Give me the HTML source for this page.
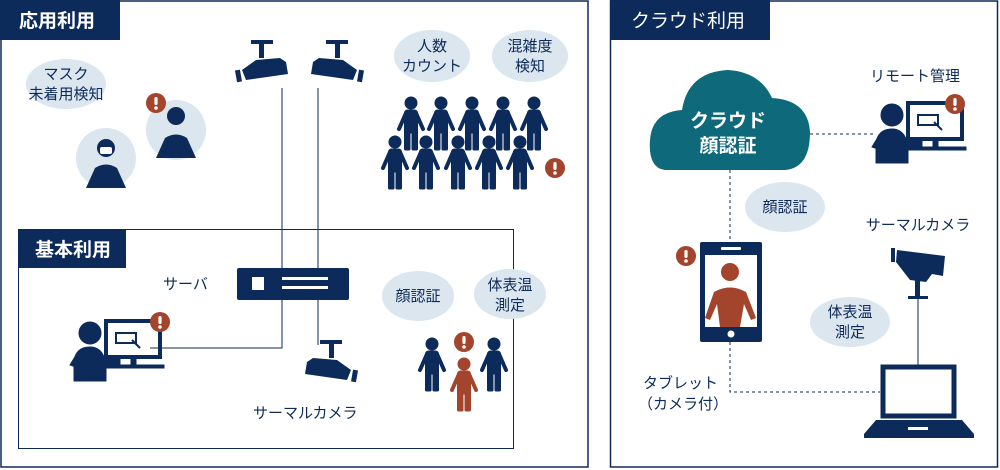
<!DOCTYPE html>
<html><head><meta charset="utf-8"><style>
html,body{margin:0;padding:0;background:#fff;}
svg{display:block;font-family:"Liberation Sans","Noto Sans CJK JP",sans-serif;}
</style></head><body>
<svg width="1000" height="470" viewBox="0 0 1000 470" xmlns="http://www.w3.org/2000/svg">
<defs>
<g id="man">
<circle cx="0" cy="6" r="6"/>
<rect x="-6.5" y="13" width="13" height="23" rx="3"/>
<line x1="-5" y1="16" x2="-12" y2="32" stroke-width="4" stroke-linecap="round"/>
<line x1="5" y1="16" x2="12" y2="32" stroke-width="4" stroke-linecap="round"/>
<rect x="-6.5" y="33" width="5.5" height="20" rx="1"/>
<rect x="1" y="33" width="5.5" height="20" rx="1"/>
</g>
<g id="bang"><circle r="10" fill="#a3442d"/><rect x="-1.6" y="-6" width="3.2" height="8" rx="1.5" fill="#fff"/><circle cy="5" r="1.8" fill="#fff"/></g>
<g id="pcman">
<circle cx="20" cy="12" r="11"/>
<path d="M4 60 L4 40 Q6 26 20 26 Q30 26 34 36 L50 36 L50 44 L36 44 L36 60 Z"/>
<path d="M0 44 L6 34 L10 40 L6 46Z"/>
<rect x="36" y="0" width="54" height="36" fill="none" stroke-width="4"/>
<rect x="61" y="36" width="5" height="8"/>
<rect x="36" y="44" width="58" height="3"/>
<rect x="46" y="12" width="20" height="10" fill="none" stroke-width="2"/>
<path d="M62 19 L70 27" stroke-width="2"/>
</g>
<g id="camL">
<rect x="13" y="0" width="22" height="4"/>
<rect x="21" y="4" width="5" height="14"/>
<path d="M4 30 L18 20 L42 18 L48 22 L50 34 L8 40 Z"/>
<rect x="-2" y="30" width="5" height="12" transform="rotate(-10 0 36)"/>
</g>
</defs>

<rect x="1" y="1" width="587" height="466" fill="#fff" stroke="#0d2b5a" stroke-width="1.5"/>
<rect x="0" y="0" width="120" height="40" fill="#0d2b5a"/>
<text x="19" y="27" font-size="19" font-weight="bold" fill="#fff">応用利用</text>

<rect x="18.5" y="229.5" width="495" height="219" fill="none" stroke="#0d2b5a" stroke-width="1"/>
<rect x="18" y="229" width="108" height="39" fill="#0d2b5a"/>
<text x="35" y="256" font-size="19" font-weight="bold" fill="#fff">基本利用</text>

<g stroke="#0d2b5a" stroke-width="1" fill="none">
<line x1="282" y1="88" x2="282" y2="268"/>
<line x1="318" y1="88" x2="318" y2="268"/>
<polyline points="282,300 282,348 150,348"/>
<line x1="318" y1="300" x2="318" y2="345"/>
</g>

<ellipse cx="66" cy="84" rx="40" ry="25" fill="#dbe6ef"/>
<text x="66" y="79" font-size="15" fill="#0d2b5a" text-anchor="middle">マスク</text>
<text x="66" y="99" font-size="15" fill="#0d2b5a" text-anchor="middle">未着用検知</text>
<circle cx="106" cy="158" r="30" fill="#dbe6ef"/>
<circle cx="176" cy="130" r="30" fill="#dbe6ef"/>
<g fill="#0d2b5a">
<circle cx="106" cy="148" r="9"/>
<path d="M86 188 L95 168 Q106 161 117 168 L126 188 Z"/>
<circle cx="176" cy="116" r="9"/>
<path d="M156 158 L165 138 Q176 131 187 138 L196 158 Z"/>
</g>
<rect x="100" y="147" width="12" height="7" rx="2" fill="#fff"/>
<use href="#bang" x="156" y="103"/>

<g fill="#0d2b5a" stroke="#0d2b5a">
<g transform="translate(238,40)"><use href="#camL" stroke="none"/></g>
<g transform="translate(361,40) scale(-1,1)"><use href="#camL" stroke="none"/></g>
</g>

<ellipse cx="432" cy="56" rx="38" ry="26" fill="#dbe6ef"/>
<text x="432" y="51" font-size="15" fill="#0d2b5a" text-anchor="middle">人数</text>
<text x="432" y="71" font-size="15" fill="#0d2b5a" text-anchor="middle">カウント</text>
<ellipse cx="530" cy="56" rx="38" ry="26" fill="#dbe6ef"/>
<text x="530" y="51" font-size="15" fill="#0d2b5a" text-anchor="middle">混雑度</text>
<text x="530" y="71" font-size="15" fill="#0d2b5a" text-anchor="middle">検知</text>
<g fill="#0d2b5a" stroke="#0d2b5a">
<use href="#man" x="411" y="97"/><use href="#man" x="441" y="97"/><use href="#man" x="472" y="97"/><use href="#man" x="503" y="97"/><use href="#man" x="534" y="97"/>
<use href="#man" x="395" y="136"/><use href="#man" x="426" y="136"/><use href="#man" x="458" y="136"/><use href="#man" x="489" y="136"/><use href="#man" x="520" y="136"/>
</g>
<use href="#bang" x="555" y="168"/>

<text x="163" y="289" font-size="15" fill="#0d2b5a">サーバ</text>
<rect x="237" y="268" width="112" height="32" rx="2" fill="#0d2b5a"/>
<rect x="252" y="277" width="12" height="13" fill="#fff"/>
<rect x="282" y="277" width="46" height="3" fill="#fff"/>
<rect x="282" y="286" width="46" height="3" fill="#fff"/>

<g fill="#0d2b5a" stroke="#0d2b5a"><use href="#pcman" x="70" y="321"/></g>
<use href="#bang" x="160" y="322"/>

<g fill="#0d2b5a"><g transform="translate(355,340) scale(-1,1)"><use href="#camL"/></g></g>
<text x="253" y="418" font-size="15" fill="#0d2b5a">サーマルカメラ</text>

<ellipse cx="418" cy="296" rx="36" ry="25" fill="#dbe6ef"/>
<text x="418" y="301" font-size="15" fill="#0d2b5a" text-anchor="middle">顔認証</text>
<ellipse cx="510" cy="294" rx="36" ry="25" fill="#dbe6ef"/>
<text x="510" y="290" font-size="15" fill="#0d2b5a" text-anchor="middle">体表温</text>
<text x="510" y="310" font-size="15" fill="#0d2b5a" text-anchor="middle">測定</text>
<g fill="#0d2b5a" stroke="#0d2b5a"><use href="#man" x="432" y="338"/><use href="#man" x="494" y="338"/></g>
<g fill="#a3442d" stroke="#a3442d"><use href="#man" x="464" y="358"/></g>
<use href="#bang" x="464" y="342"/>

<rect x="610.5" y="1" width="387" height="466" fill="#fff" stroke="#0d2b5a" stroke-width="1.5"/>
<rect x="610" y="0" width="160" height="40" fill="#0d2b5a"/>
<text x="631" y="27" font-size="19" fill="#fff">クラウド利用</text>

<g stroke="#0d2b5a" stroke-width="1" fill="none" stroke-dasharray="3,3">
<line x1="810" y1="134" x2="875" y2="134"/>
<line x1="730" y1="170" x2="730" y2="242"/>
<polyline points="730,342 730,392 880,392"/>
</g>
<path d="M665 170 Q648 168 650 140 Q652 112 682 110 Q688 72 728 70 Q760 72 772 98 Q808 100 810 132 Q810 168 785 170 Z" fill="#0e6a7a"/>
<text x="728" y="127" font-size="19" font-weight="bold" fill="#fff" text-anchor="middle">クラウド</text>
<text x="728" y="152" font-size="19" font-weight="bold" fill="#fff" text-anchor="middle">顔認証</text>

<text x="915" y="81" font-size="15" fill="#0d2b5a" text-anchor="middle">リモート管理</text>
<g fill="#0d2b5a" stroke="#0d2b5a"><use href="#pcman" x="872" y="103"/></g>
<use href="#bang" x="955" y="104"/>

<ellipse cx="785" cy="207" rx="40" ry="25" fill="#dbe6ef"/>
<text x="785" y="212" font-size="15" fill="#0d2b5a" text-anchor="middle">顔認証</text>

<rect x="700" y="242" width="62" height="100" rx="2" fill="#0d2b5a"/>
<rect x="705" y="255" width="52" height="72" fill="#fff"/>
<rect x="721" y="247" width="20" height="3" rx="1" fill="#fff"/>
<circle cx="731" cy="334" r="3.5" fill="#fff"/>
<g fill="#a3442d"><circle cx="730" cy="272" r="9"/><path d="M705 318 L714 292 Q730 283 746 292 L756 318 L751 320 L744 304 L740 327 L720 327 L717 304 L710 320 Z"/></g>
<use href="#bang" x="686" y="256"/>
<text x="643" y="388" font-size="15" fill="#0d2b5a">タブレット</text>
<text x="638" y="409" font-size="15" fill="#0d2b5a">（カメラ付）</text>

<text x="918" y="230" font-size="15" fill="#0d2b5a" text-anchor="middle">サーマルカメラ</text>
<g fill="#0d2b5a">
<path d="M897 250 L945 256 L943 276 L932 274 L926 282 L910 280 L896 262 Z"/>
<rect x="891" y="248" width="4" height="14"/>
<rect x="915" y="274" width="5" height="22"/>
<rect x="908" y="296" width="20" height="3"/>
</g>
<line x1="918" y1="299" x2="918" y2="365" stroke="#0d2b5a" stroke-width="1"/>
<ellipse cx="850" cy="322" rx="40" ry="25" fill="#dbe6ef"/>
<text x="850" y="317" font-size="15" fill="#0d2b5a" text-anchor="middle">体表温</text>
<text x="850" y="337" font-size="15" fill="#0d2b5a" text-anchor="middle">測定</text>

<rect x="883" y="367" width="71" height="49" fill="#fff" stroke="#0d2b5a" stroke-width="5"/>
<path d="M876 420 L962 420 L974 434 L864 434 Z" fill="#0d2b5a"/>
<rect x="864" y="434" width="110" height="4" fill="#0d2b5a"/>
<rect x="908" y="427" width="20" height="3" fill="#fff"/>
</svg>
</body></html>
